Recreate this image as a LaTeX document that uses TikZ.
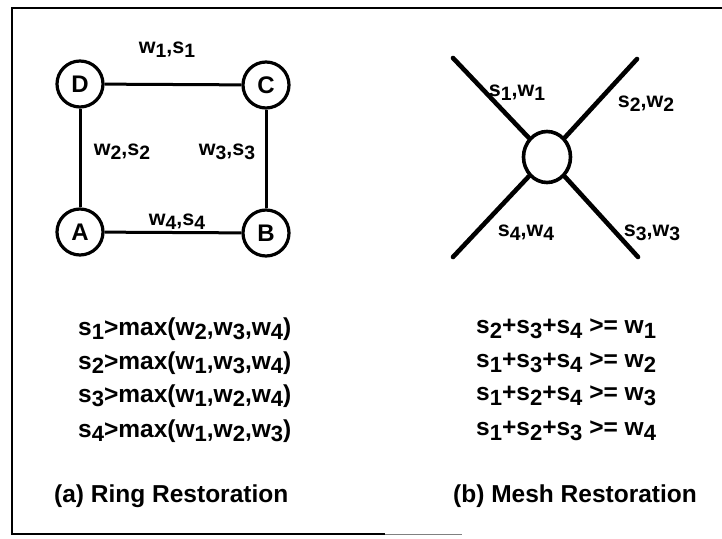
\documentclass[tikz,border=0pt]{standalone}
\usepackage{fontspec}
\usetikzlibrary{shapes.geometric}
\setmainfont{Liberation Sans}
\newcommand\dn[1]{\raisebox{-0.35ex}{\scalebox{0.9}{#1}}}
\begin{document}
\begin{tikzpicture}[x=1pt,y=-1pt,
  ringnode/.style={circle,draw,line width=3.2pt,minimum size=46pt,inner sep=0pt,font=\fontsize{24}{24}\selectfont\bfseries},
  meshnode/.style={ellipse,draw,line width=3.6pt,minimum width=47pt,minimum height=51pt,inner sep=0pt},
  ringedge/.style={line width=3pt},
  meshedge/.style={line width=4.6pt,line cap=round},
  elabel/.style={font=\fontsize{21.5}{21.5}\selectfont\bfseries,inner sep=0pt},
  eqn/.style={font=\fontsize{24.5}{24.5}\selectfont\bfseries,inner sep=0pt,anchor=west},
  frameline/.style={line width=2.8pt}]
\useasboundingbox (0,0) rectangle (722,538);
% frame
\coordinate (f1) at (722,8);
\coordinate (f2) at (12,8);
\coordinate (f3) at (12,534);
\coordinate (f4) at (385,534);
\coordinate (f5) at (462,534);
\draw[frameline] (f1) -- (f2) -- (f3) -- (f4);
\draw[line width=1pt,gray] (f4) -- (f5);
% ring
\node[ringnode] (D) at (80,84) {D};
\node[ringnode] (C) at (266,85) {C};
\node[ringnode] (A) at (80,232) {A};
\node[ringnode] (B) at (266,233) {B};
\draw[ringedge] (D) -- (C);
\draw[ringedge] (D) -- (A);
\draw[ringedge] (A) -- (B);
\draw[ringedge] (C) -- (B);
\node[elabel] (l1) at (167,50) {w\dn{1},s\dn{1}};
\node[elabel] (l2) at (122,152) {w\dn{2},s\dn{2}};
\node[elabel] (l3) at (227,152) {w\dn{3},s\dn{3}};
\node[elabel] (l4) at (177,222) {w\dn{4},s\dn{4}};
% mesh
\node[meshnode] (M) at (547,157) {};
\coordinate (m1) at (453,58);
\coordinate (m2) at (637,59);
\coordinate (m3) at (638,257);
\coordinate (m4) at (453,257);
\draw[meshedge] (M) -- (m1);
\draw[meshedge] (M) -- (m2);
\draw[meshedge] (M) -- (m3);
\draw[meshedge] (M) -- (m4);
\node[elabel] (k1) at (517,93) {s\dn{1},w\dn{1}};
\node[elabel] (k2) at (646,104) {s\dn{2},w\dn{2}};
\node[elabel] (k4) at (526,233) {s\dn{4},w\dn{4}};
\node[elabel] (k3) at (652,233) {s\dn{3},w\dn{3}};
% equations
\node[eqn] (e1) at (78,329) {s\dn{1}>max(w\dn{2},w\dn{3},w\dn{4})};
\node[eqn] (e2) at (78,363) {s\dn{2}>max(w\dn{1},w\dn{3},w\dn{4})};
\node[eqn] (e3) at (78,396) {s\dn{3}>max(w\dn{1},w\dn{2},w\dn{4})};
\node[eqn] (e4) at (78,431) {s\dn{4}>max(w\dn{1},w\dn{2},w\dn{3})};
\node[eqn] (ta) at (54,496) {(a) Ring Restoration};
\node[eqn] (r1) at (476,329) {s\dn{2}+s\dn{3}+s\dn{4} >= w\dn{1}};
\node[eqn] (r2) at (476,363) {s\dn{1}+s\dn{3}+s\dn{4} >= w\dn{2}};
\node[eqn] (r3) at (476,396) {s\dn{1}+s\dn{2}+s\dn{4} >= w\dn{3}};
\node[eqn] (r4) at (476,431) {s\dn{1}+s\dn{2}+s\dn{3} >= w\dn{4}};
\node[eqn] (tb) at (453,496) {(b) Mesh Restoration};
\end{tikzpicture}
\end{document}
